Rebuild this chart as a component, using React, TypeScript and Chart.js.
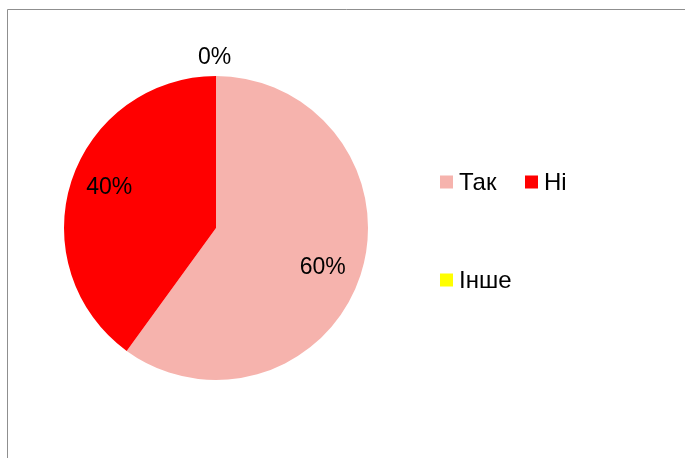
import React, { useEffect, useRef } from "react";
import { Chart, registerables } from "chart.js";

Chart.register(...registerables);

const categories = ["Так", "Ні", "Інше"];
const values = [60, 40, 0];
const colors = ["#F6B3AD", "#FF0000", "#FFFF00"];

const FONT = "Arial, 'Liberation Sans', sans-serif";

const framePlugin = {
  id: "frame",
  beforeDraw(chart: any) {
    const ctx = chart.ctx;
    ctx.save();
    ctx.fillStyle = "#ffffff";
    ctx.fillRect(0, 0, chart.width, chart.height);
    ctx.strokeStyle = "#8f8f8f";
    ctx.lineWidth = 1;
    ctx.beginPath();
    ctx.moveTo(7.5, chart.height);
    ctx.lineTo(7.5, 9.5);
    ctx.lineTo(chart.width, 9.5);
    ctx.stroke();
    ctx.restore();
  },
};

const labelPlugin = {
  id: "sliceLabels",
  afterDatasetsDraw(chart: any) {
    const ctx = chart.ctx;
    const meta = chart.getDatasetMeta(0);
    const data = chart.data.datasets[0].data as number[];
    const total = data.reduce((a, b) => a + b, 0);
    ctx.save();
    ctx.font = `23px ${FONT}`;
    ctx.fillStyle = "#000000";
    ctx.textAlign = "center";
    ctx.textBaseline = "middle";
    meta.data.forEach((arc: any, i: number) => {
      const { x, y, startAngle, endAngle, outerRadius } = arc.getProps(
        ["x", "y", "startAngle", "endAngle", "outerRadius"],
        true
      );
      const v = data[i];
      const txt = Math.round((v / total) * 100) + "%";
      if (v > 0) {
        const mid = (startAngle + endAngle) / 2 + 0.044;
        const r = outerRadius * 0.75;
        ctx.fillText(txt, x + Math.cos(mid) * r, y + Math.sin(mid) * r);
      } else {
        const mid = (startAngle + endAngle) / 2;
        const r = outerRadius + 19;
        ctx.fillText(txt, x + Math.cos(mid) * r - 1.5, y + Math.sin(mid) * r + 1);
      }
    });
    ctx.restore();
  },
};

const legendPlugin = {
  id: "customLegend",
  afterDraw(chart: any) {
    const ctx = chart.ctx;
    const positions = [
      { x: 440, y: 182 },
      { x: 525, y: 182 },
      { x: 440, y: 280 },
    ];
    ctx.save();
    ctx.font = `24px ${FONT}`;
    ctx.textBaseline = "middle";
    ctx.textAlign = "left";
    categories.forEach((c, i) => {
      const p = positions[i];
      ctx.fillStyle = colors[i];
      ctx.fillRect(p.x, p.y - 6.5, 13, 13);
      ctx.fillStyle = "#000000";
      ctx.fillText(c, p.x + 19, p.y + 1);
    });
    ctx.restore();
  },
};

export default function App() {
  const ref = useRef<HTMLCanvasElement | null>(null);
  useEffect(() => {
    if (!ref.current) return;
    const chart = new Chart(ref.current, {
      type: "pie",
      data: {
        labels: categories,
        datasets: [
          {
            data: values,
            backgroundColor: colors,
            borderWidth: 0,
          },
        ],
      },
      options: {
        animation: false,
        responsive: false,
        maintainAspectRatio: false,
        layout: { padding: { left: 64, right: 317, top: 76, bottom: 78 } },
        plugins: {
          legend: { display: false },
          tooltip: { enabled: false },
        },
      },
      plugins: [framePlugin, labelPlugin, legendPlugin],
    });
    return () => chart.destroy();
  }, []);
  return (
    <div style={{ position: "absolute", left: 0, top: 0, width: 685, height: 458 }}>
      <canvas ref={ref} width={685} height={458} style={{ display: "block" }} />
    </div>
  );
}
